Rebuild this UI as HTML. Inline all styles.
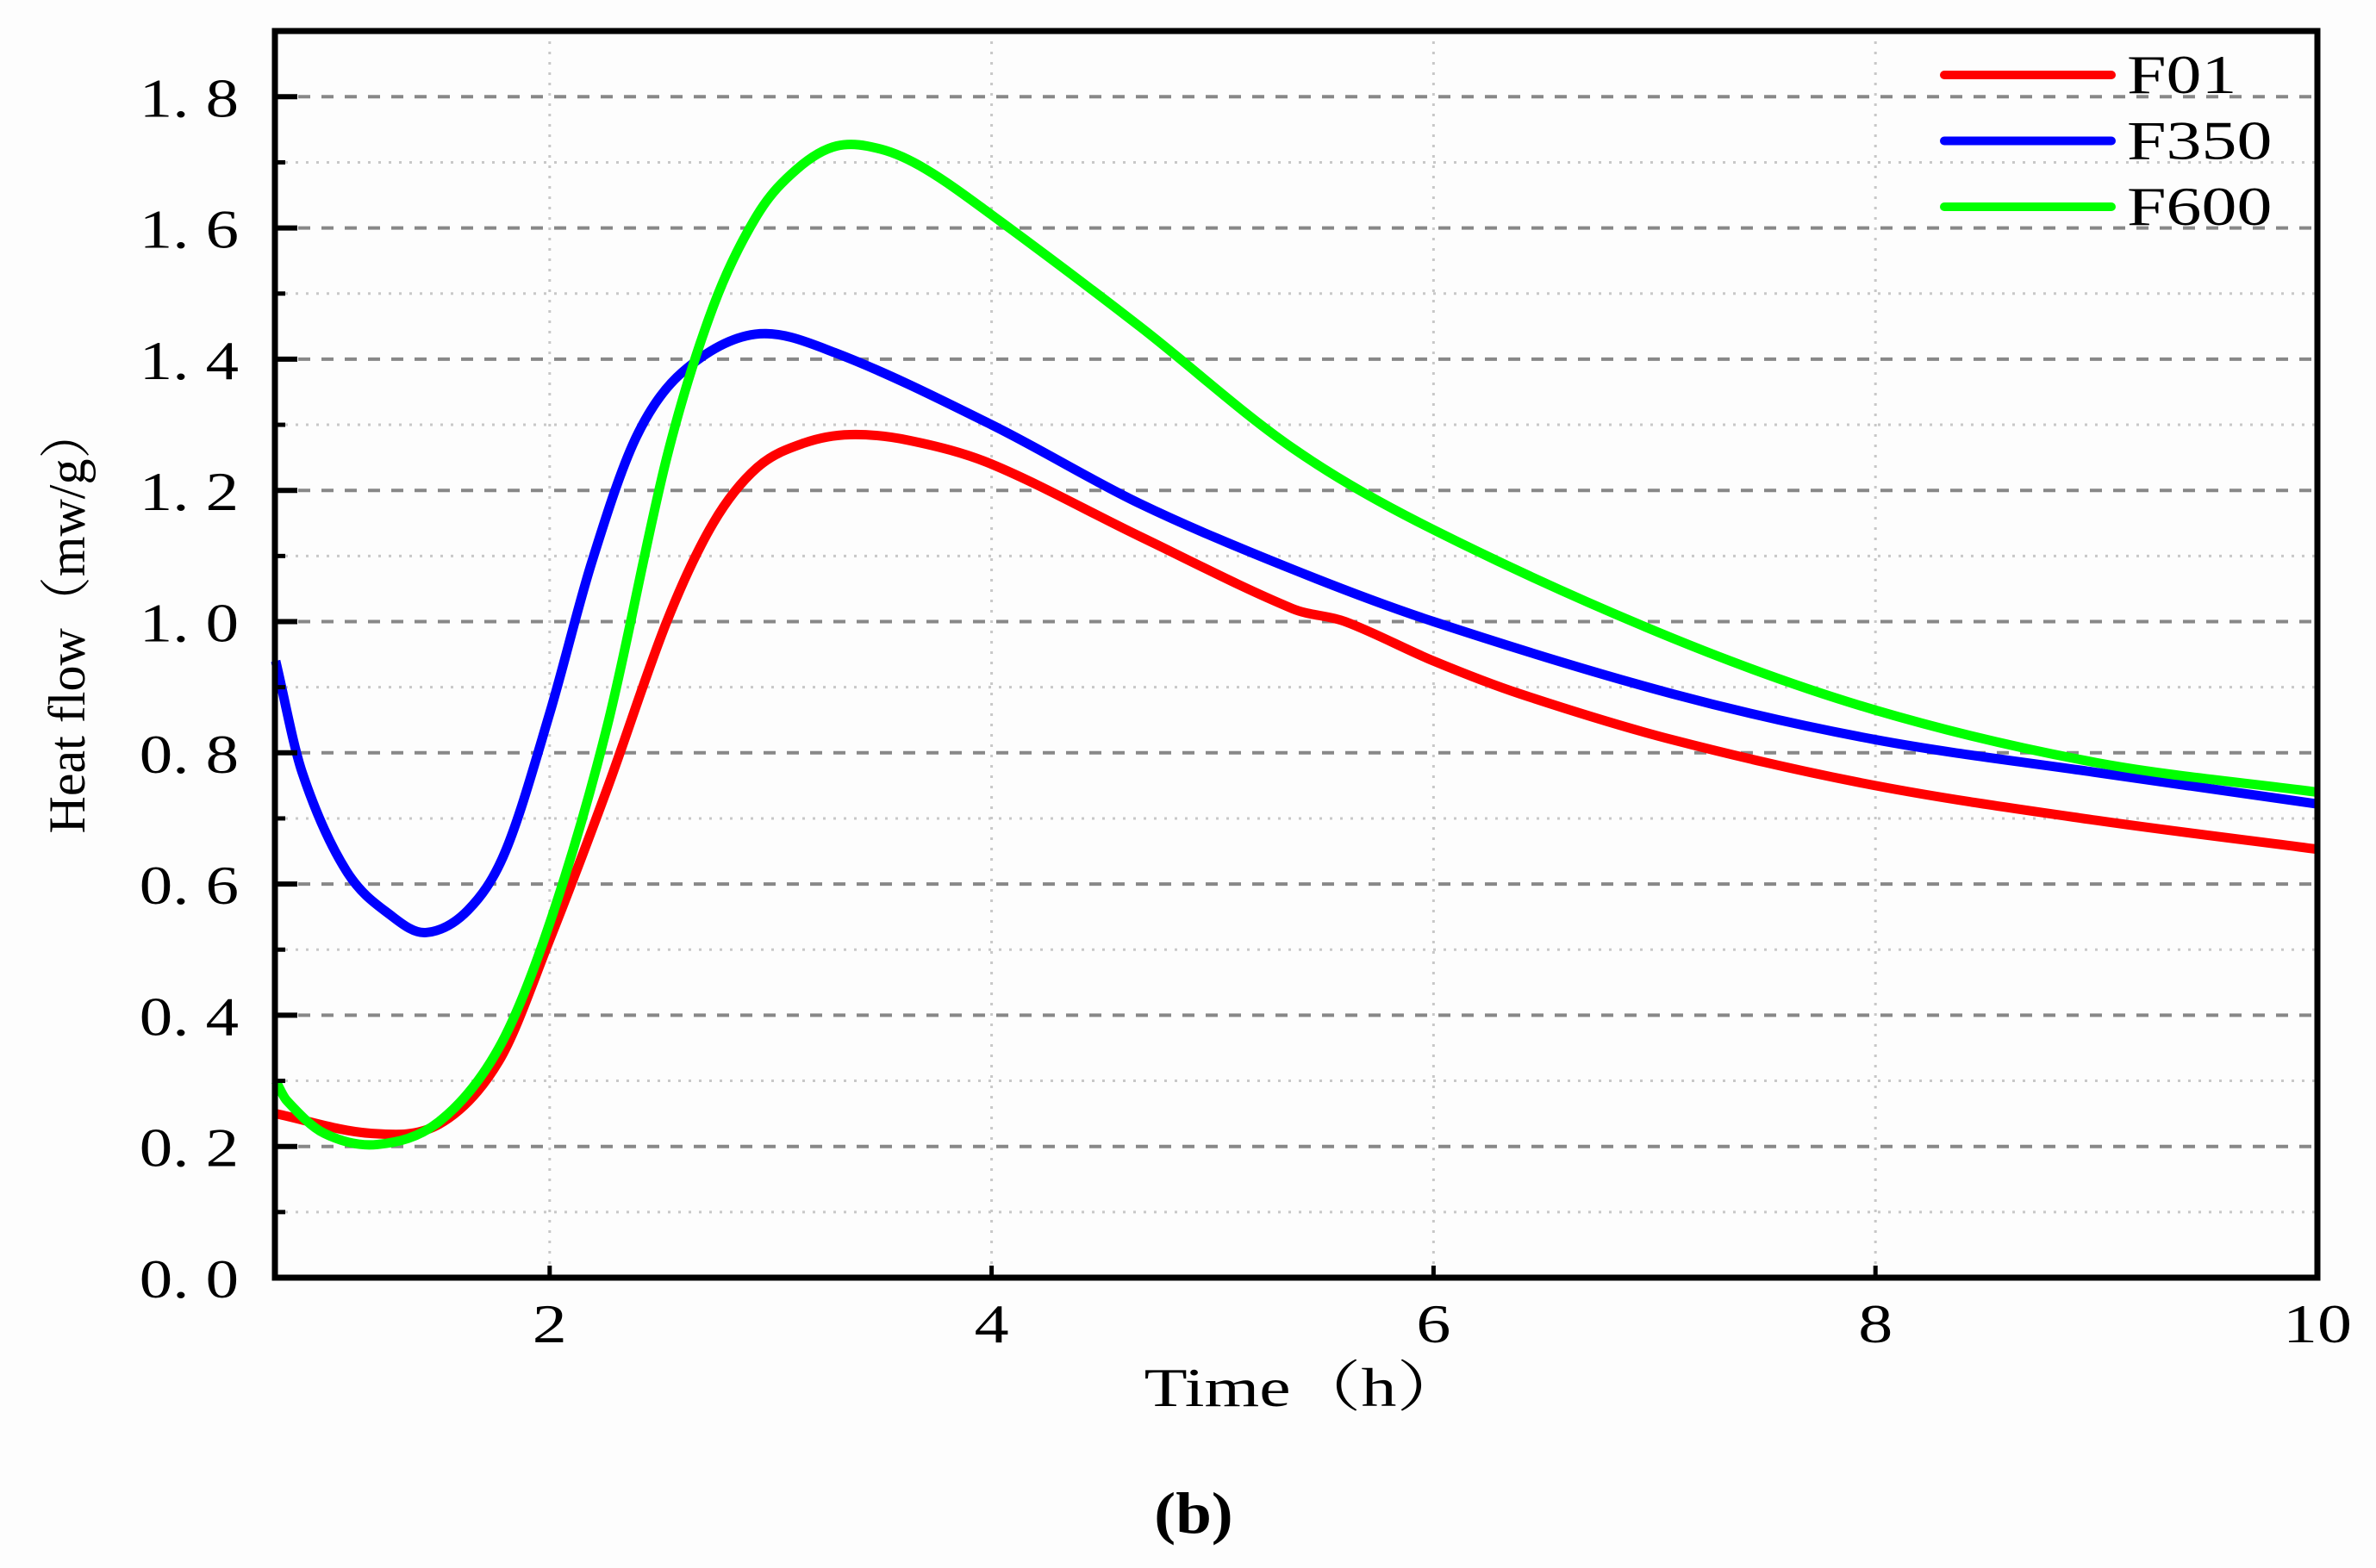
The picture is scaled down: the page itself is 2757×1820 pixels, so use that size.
<!DOCTYPE html>
<html><head><meta charset="utf-8"><style>
html,body{margin:0;padding:0;background:#fff;}
svg{display:block;font-family:"Liberation Serif","Noto Serif CJK SC",serif;}
</style></head><body>
<svg id="chart" width="2757" height="1820" viewBox="0 0 2757 1820" xmlns="http://www.w3.org/2000/svg">
<rect width="2757" height="1820" fill="#fdfdfd"/>
<g id="grid"></g>
<g id="series"></g>
<g id="axes"></g>
<text transform="translate(1515,1632) scale(1.28,1)" font-size="64" text-anchor="middle">Time（h）</text>
<text transform="translate(98,720) rotate(-90)" font-size="60" text-anchor="middle">Heat flow（mw/g）</text>
<text transform="translate(1385,1779) scale(1.1,1)" font-size="68" font-weight="bold" text-anchor="middle">(b)</text>
<g id="legend"></g>
</svg>
<script>
const xTicks = [2, 4, 6, 8, 10];
const yTicks = [0.0, 0.2, 0.4, 0.6, 0.8, 1.0, 1.2, 1.4, 1.6, 1.8];
const yTickLabels = ["0. 0","0. 2","0. 4","0. 6","0. 8","1. 0","1. 2","1. 4","1. 6","1. 8"];
const seriesNames = ["F01", "F350", "F600"];
const seriesColors = ["#ff0000", "#0000ff", "#00ff00"];
const f01X = [0.76,1.19,1.5,1.77,2.0,2.26,2.53,2.74,2.94,3.15,3.36,3.63,4.0,4.67,5.36,5.6,6.0,6.39,7.08,8.0,9.0,10.0];
const f01Y = [0.25,0.22,0.234,0.33,0.515,0.745,1.0,1.15,1.235,1.272,1.285,1.276,1.24,1.13,1.02,1.0,0.94,0.89,0.82,0.75,0.697,0.653];
const f350X = [0.76,0.88,1.08,1.29,1.44,1.63,1.8,2.0,2.19,2.39,2.6,2.93,3.29,4.0,4.67,5.36,6.0,7.08,8.0,9.0,10.0];
const f350Y = [0.94,0.77,0.62,0.55,0.526,0.56,0.65,0.86,1.09,1.28,1.38,1.438,1.41,1.30,1.18,1.08,1.0,0.89,0.82,0.77,0.722];
const f600X = [0.76,0.81,0.98,1.22,1.5,1.77,2.0,2.26,2.53,2.74,2.94,3.12,3.3,3.5,3.7,4.0,4.67,5.36,6.0,7.08,8.0,9.0,10.0];
const f600Y = [0.30,0.27,0.22,0.203,0.238,0.35,0.54,0.84,1.25,1.48,1.62,1.69,1.725,1.72,1.69,1.62,1.45,1.265,1.14,0.975,0.865,0.785,0.74];

const NS = "http://www.w3.org/2000/svg";
const xMin = 0.76, xMax = 10.0, yMin = 0, yMax = 1.9;
const L = 319, R = 2689, T = 36, B = 1483;
function sx(v){ return 125 + v * 256.4; }
function sy(v){ return B - v * 761.5; }
function mk(tag, attrs, parent){
  const e = document.createElementNS(NS, tag);
  for (const k in attrs) e.setAttribute(k, attrs[k]);
  parent.appendChild(e);
  return e;
}
const grid = document.getElementById('grid');
const axes = document.getElementById('axes');
const series = document.getElementById('series');
const legend = document.getElementById('legend');

for (let i = 1; i < 19; i += 2) {
  const y = sy(i * 0.1);
  const ln = mk('line', {x1: L, x2: R, y1: y, y2: y, stroke: '#c8c8c8', 'stroke-width': 3, 'stroke-dasharray': '3 9'}, grid);
  
  
  const tk = mk('line', {x1: L, x2: L + 12, y1: y, y2: y, stroke: '#000', 'stroke-width': 5}, axes);
  
  
}
xTicks.forEach(v => {
  if (v >= xMax) return;
  const x = sx(v);
  const ln = mk('line', {x1: x, x2: x, y1: T, y2: B, stroke: '#c8c8c8', 'stroke-width': 3, 'stroke-dasharray': '3 9'}, grid);
  
  
});
yTicks.forEach((v, i) => {
  const y = sy(v);
  if (v > 0) {
    const ln = mk('line', {x1: L, x2: R, y1: y, y2: y, stroke: '#888', 'stroke-width': 4, 'stroke-dasharray': '14 13'}, grid);
    
    
    const tk = mk('line', {x1: L, x2: L + 26, y1: y, y2: y, stroke: '#000', 'stroke-width': 6}, axes);
    
    
  }
  const t = mk('text', {transform: 'translate(277,' + (y + 23) + ') scale(1.2,1)', 'font-size': 64, 'text-anchor': 'end'}, axes);
  t.textContent = yTickLabels[i];
  
  
});
xTicks.forEach(v => {
  const x = sx(v);
  if (v < xMax) {
    const tk = mk('line', {x1: x, x2: x, y1: B, y2: B - 14, stroke: '#000', 'stroke-width': 5}, axes);
    
    
  }
  const t = mk('text', {transform: 'translate(' + x + ',1558) scale(1.25,1)', 'font-size': 64, 'text-anchor': 'middle'}, axes);
  t.textContent = String(v);
  
  
});
const frame = mk('rect', {x: L, y: T, width: R - L, height: B - T, fill: 'none', stroke: '#000', 'stroke-width': 7}, axes);



function smoothPath(xs, ys){
  const n = xs.length;
  const m = [];
  for (let i = 0; i < n; i++) {
    const a = Math.max(0, i - 1), b = Math.min(n - 1, i + 1);
    m.push((ys[b] - ys[a]) / (xs[b] - xs[a]));
  }
  let d = 'M' + sx(xs[0]) + ',' + sy(ys[0]);
  for (let i = 0; i < n - 1; i++) {
    const h = xs[i + 1] - xs[i];
    const c1x = xs[i] + h / 3, c1y = ys[i] + m[i] * h / 3;
    const c2x = xs[i + 1] - h / 3, c2y = ys[i + 1] - m[i + 1] * h / 3;
    d += ' C' + sx(c1x) + ',' + sy(c1y) + ' ' + sx(c2x) + ',' + sy(c2y) + ' ' + sx(xs[i + 1]) + ',' + sy(ys[i + 1]);
  }
  return d;
}
const allX = [f01X, f350X, f600X], allY = [f01Y, f350Y, f600Y];
const seriesKeys = ['series-f01', 'series-f350', 'series-f600'];
for (let s = 0; s < 3; s++) {
  const path = mk('path', {d: smoothPath(allX[s], allY[s]), fill: 'none', stroke: seriesColors[s], 'stroke-width': 11, 'stroke-linejoin': 'round'}, series);
  
  
  const ly = 87 + s * 76.5;
  const ll = mk('line', {x1: 2256, x2: 2450, y1: ly, y2: ly, stroke: seriesColors[s], 'stroke-width': 10, 'stroke-linecap': 'round'}, legend);
  
  
  const lt = mk('text', {transform: 'translate(2468,' + (ly + 21) + ') scale(1.28,1)', 'font-size': 64}, legend);
  lt.textContent = seriesNames[s];
  
  
}
</script>
</body></html>
